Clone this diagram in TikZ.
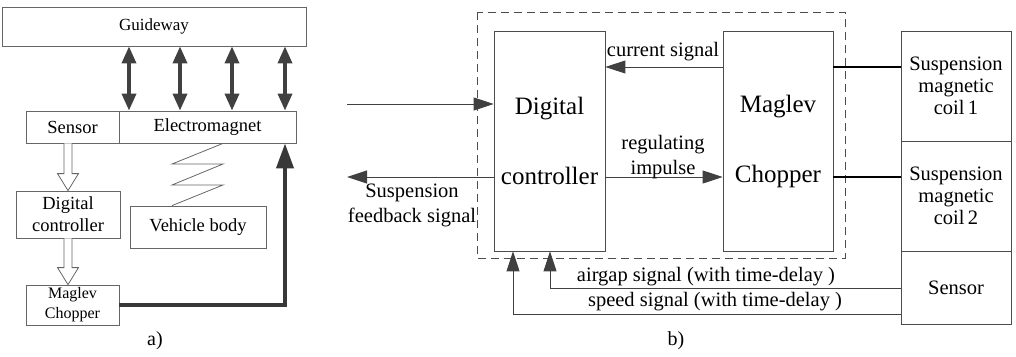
\documentclass[tikz,border=0pt]{standalone}
\usepackage{fontspec}
\setmainfont{Liberation Serif}
\usetikzlibrary{arrows.meta,calc}

\newcommand{\hollowdown}[2]{%
  \draw[hollow] let \p1=#1, \p2=#2 in
    (\x1-4pt,\y1) -- (\x1-4pt,\y2+17pt) -- (\x1-10.5pt,\y2+17pt) -- (\x1,\y2)
    -- (\x1+10.5pt,\y2+17pt) -- (\x1+4pt,\y2+17pt) -- (\x1+4pt,\y1);}

\begin{document}
\begin{tikzpicture}[x=1pt,y=-1pt,
  boxa/.style={draw=black!60,line width=0.8pt,inner sep=0pt,align=center,font=\fontsize{18.5}{22}\selectfont},
  boxb/.style={draw=black!70,line width=0.8pt,inner sep=0pt,align=center,minimum width=110pt},
  dbl/.style={{Triangle[length=17pt,width=14pt]}-{Triangle[length=17pt,width=14pt]},line width=3.5pt,draw=black!75},
  hollow/.style={draw=black!60,line width=0.8pt,fill=white},
  sig/.style={-{Triangle[length=20pt,width=13pt]},draw=black!75,line width=0.9pt},
  lbl/.style={align=center,font=\fontsize{20.5}{22}\selectfont},
  big/.style={font=\fontsize{25}{26}\selectfont}]

\useasboundingbox (0,0) rectangle (1016,356);

% a)
\node[boxa,minimum width=304pt,minimum height=39pt,font=\fontsize{17}{20}\selectfont] (guide) at (154,26.5) {Guideway};
\node[boxa,minimum width=93pt,minimum height=32pt] (sensA) at (72.5,127) {Sensor};
\node[boxa,minimum width=177pt,minimum height=32pt] (magnet) at (207.5,127) {Electromagnet};
\node[boxa,minimum width=104pt,minimum height=47pt] (ctrlA) at (68,214.5) {Digital\\controller};
\node[boxa,minimum width=93pt,minimum height=40pt,font=\fontsize{16}{20}\selectfont] (chopA) at (72.5,305) {Maglev\\Chopper};
\node[boxa,minimum width=136pt,minimum height=42pt] (body) at (198,227) {Vehicle body};

\foreach \x in {129,180,232,285}
  \draw[dbl] (\x,0 |- guide.south) -- (\x,0 |- magnet.north);

\draw[draw=black!60,line width=0.8pt] (223,0 |- magnet.south) -- (172,164) -- (223,164) -- (172,185) -- (223,185) -- (172,0 |- body.north);

\hollowdown{(ctrlA.north |- sensA.south)}{(ctrlA.north)}
\hollowdown{(ctrlA.south)}{(ctrlA.south |- chopA.north)}

\draw[line width=4pt,draw=black!78,-{Triangle[length=25pt,width=17pt]}] (chopA.east) -| (285,0 |- magnet.south);

\node[font=\fontsize{20}{22}\selectfont] (capA) at (155,341) {a)};

% b)
\draw[draw=black!70,line width=0.8pt,dash pattern=on 8pt off 5pt] (477,12) rectangle (845,258);

\node[boxb,big,minimum height=220pt,minimum width=111pt] (ctrlB) at (549.5,141) {Digital\\[44pt]controller};
\node[boxb,big,minimum height=220pt] (chopB) at (778,141) {Maglev\\[44pt]Chopper};
\node[boxb,lbl,minimum height=110pt] (coil1) at (956,86) {Suspension\\magnetic\\coil\,1};
\node[boxb,lbl,minimum height=110pt] (coil2) at (956,196) {Suspension\\magnetic\\coil\,2};
\node[boxb,lbl,minimum height=73pt] (sensB) at (956,287.5) {Sensor};

\coordinate (inp) at (347,104);
\coordinate (fbk) at (347,177);
\draw[sig] (inp) -- (inp -| ctrlB.west);
\draw[sig] (fbk -| ctrlB.west) -- (fbk);
\draw[sig] (chopB.west |- 0,67) -- (ctrlB.east |- 0,67);
\draw[sig] (ctrlB.east |- 0,177) -- (chopB.west |- 0,177);
\draw[line width=2.5pt] (chopB.east |- 0,67) -- (coil1.west |- 0,67);
\draw[line width=2.5pt] (chopB.east |- 0,177) -- (coil2.west |- 0,177);
\draw[sig] (sensB.west |- 0,288) -| (550,0 |- ctrlB.south);
\draw[sig] (sensB.west |- 0,314) -| (513,0 |- ctrlB.south);

\node[lbl] (cur) at (663,52) {current signal};
\node[lbl] (reg) at (663,157) {regulating\\[3pt]impulse};
\node[lbl] (fbtxt) at (412,205) {Suspension\\[3pt]feedback signal};
\node[lbl] (air) at (706,277) {airgap signal (with time-delay )};
\node[lbl] (spd) at (715,302) {speed signal (with time-delay )};
\node[font=\fontsize{20}{22}\selectfont] (capB) at (676,341) {b)};
\end{tikzpicture}
\end{document}
